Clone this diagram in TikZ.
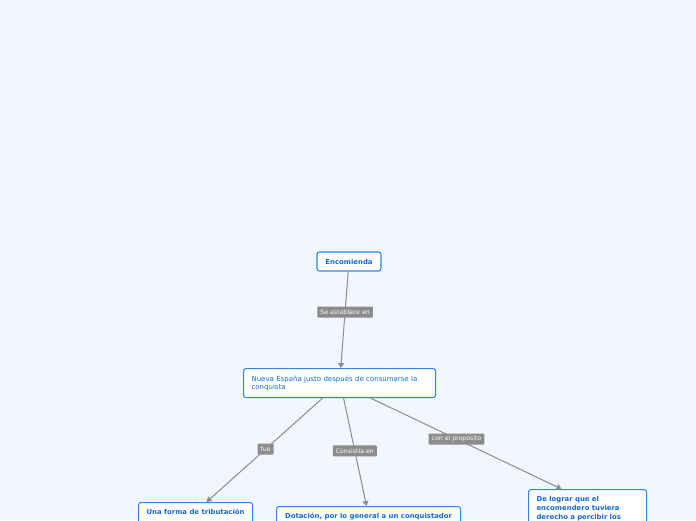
\documentclass[tikz,border=0pt]{standalone}
\usepackage{fontspec}
\setmainfont{DejaVu Sans}
\usetikzlibrary{arrows.meta}
\definecolor{bgc}{HTML}{F2F6FE}
\definecolor{boxc}{HTML}{2E86E8}
\definecolor{txtc}{HTML}{1769D6}
\definecolor{lblc}{HTML}{8C8C8C}
\definecolor{linec}{HTML}{8A8C94}
\tikzset{
  topic/.style={draw=boxc, fill=white, line width=1.1pt, rounded corners=2.5pt, text=txtc, inner xsep=8pt, inner ysep=3pt},
  boldtopic/.style={topic, font=\fontsize{6.9}{9}\selectfont\bfseries},
  lbl/.style={fill=lblc, text=white, font=\fontsize{6.2}{7}\selectfont, inner xsep=3pt, inner ysep=1.5pt, minimum height=11pt, rounded corners=0.8pt},
  conn/.style={draw=linec, line width=1pt, -{Triangle[width=6pt,length=5pt]}}
}
\begin{document}
\begin{tikzpicture}[x=1pt,y=-1pt]
\useasboundingbox (0,0) rectangle (696,520);
\fill[bgc] (0,0) rectangle (696,520);
\clip (0,0) rectangle (696,520);

\node[boldtopic, minimum width=64pt, minimum height=19pt, inner ysep=2pt] (enc) at (349,261.5) {Encomienda};
\node[topic, anchor=north west, text width=176pt, minimum height=29pt, align=left, font=\fontsize{7}{8}\selectfont] (nue) at (243,368) {Nueva España justo después de consumarse la\\conquista};
\node[boldtopic, anchor=north west, minimum width=114pt, align=center, inner ysep=6pt, text depth=12pt] (una) at (138,502) {Una forma de tributación};
\node[boldtopic, anchor=north west, minimum width=184pt, align=center, inner ysep=6pt, text depth=12pt] (dot) at (276,506) {Dotación, por lo general a un conquistador};
\node[boldtopic, anchor=north west, text width=102pt, align=left, inner ysep=6.5pt] (de) at (528,489) {De lograr que el\\encomendero tuviera\\derecho a percibir los\\[14pt]~};

\draw[conn] (enc) -- node[lbl, pos=0.42] (l1) {Se establece en\hspace{4pt}} (nue);
\draw[conn] ([xshift=-17pt]nue.south) -- node[lbl, pos=0.49] (l2) {fue} ([xshift=11pt]una.north);
\draw[conn] ([xshift=4pt]nue.south) -- node[lbl, pos=0.49] (l3) {Consistía en} ([xshift=-2pt]dot.north);
\draw[conn] ([xshift=31pt]nue.south) -- node[lbl, pos=0.45] (l4) {con el propósito\hspace{4pt}} ([xshift=-26pt]de.north);
\end{tikzpicture}
\end{document}
